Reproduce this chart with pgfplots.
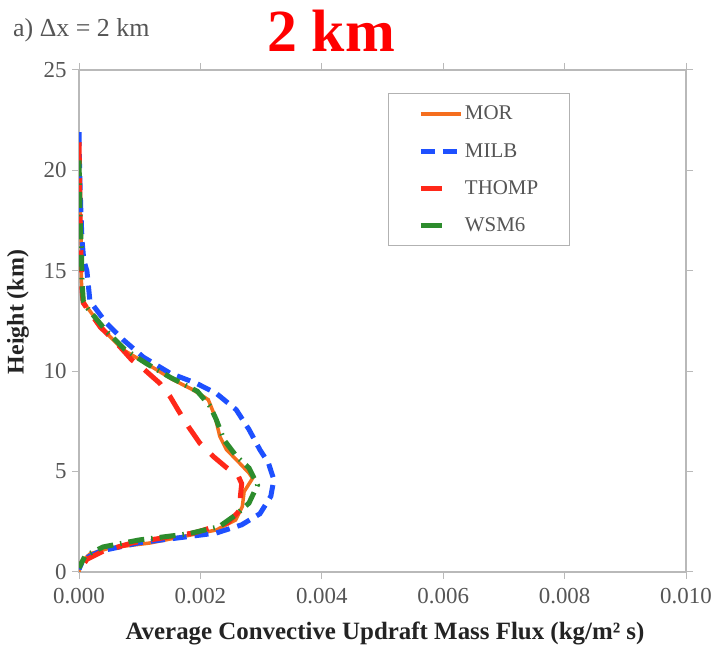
\documentclass[border=0pt]{standalone}
\usepackage{fontspec}
\setmainfont{Liberation Serif}
\usepackage{pgfplots}
\pgfplotsset{compat=1.18}
\definecolor{cmor}{RGB}{245,110,30}
\definecolor{cmilb}{RGB}{30,80,255}
\definecolor{cthomp}{RGB}{255,40,25}
\definecolor{cwsm}{RGB}{45,140,45}
\definecolor{tcol}{RGB}{85,85,85}
\definecolor{lcol}{RGB}{35,35,35}
\pgfplotsset{shortleg/.style={legend image code/.code={\draw[##1, solid] (0bp,0bp) -- (21bp,0bp);}}}
\begin{document}
\begin{tikzpicture}[x=1bp,y=1bp]
\useasboundingbox (0,0) rectangle (717,650);
\begin{axis}[
  at={(79bp,78bp)}, anchor=south west,
  scale only axis, width=607bp, height=502bp,
  xmin=0, xmax=0.01, ymin=0, ymax=25,
  xtick={0,0.002,0.004,0.006,0.008,0.010},
  ytick={0,5,10,15,20,25},
  scaled x ticks=false,
  xticklabel style={/pgf/number format/fixed,/pgf/number format/fixed zerofill,/pgf/number format/precision=3},
  /pgf/number format/assume math mode=true,
  tick label style={font=\fontsize{23}{23}\selectfont, text=tcol},
  xticklabel style={yshift=-6bp},
  yticklabel style={xshift=-2bp},
  tick align=outside, major tick length=7bp,
  tick style={draw=gray!55, line width=1bp},
  axis line style={draw=gray!55, line width=1.2bp},
  legend style={at={(0.509,0.954)}, anchor=north west, draw=gray!60, line width=1bp,
    font=\fontsize{21}{21}\selectfont, text=tcol, inner xsep=30bp, inner ysep=11bp,
    row sep=19bp, nodes={inner sep=1.5bp}},
  legend cell align=left,
  legend image code/.code={\draw[#1] (0bp,0bp) -- (40bp,0bp);},
]
\addplot[cmor, line width=3.5bp] coordinates {
(0,21.0)(0.00001,19.5)(0.00002,18)(0.00003,17)(0.00004,16)(0.00004,14.5)(0.00005,13.6)(0.00013,13.2)(0.00045,11.9)(0.00073,11.06)(0.0011,10.4)(0.00155,9.57)(0.00188,9.07)(0.00213,8.58)(0.00224,7.75)(0.00232,6.75)(0.00243,6.09)(0.00259,5.6)(0.0028,4.93)(0.00286,4.67)(0.00272,4.0)(0.00269,3.25)(0.00258,2.59)(0.00226,2.09)(0.0017,1.76)(0.00116,1.44)(0.00051,1.2)(0.00018,0.9)(0.00002,0.46)(0,0)
};
\addlegendentry{MOR}
\addplot[cmilb, line width=5bp, dash pattern=on 14bp off 8bp] coordinates {
(0,21.9)(0.00001,20)(0.00003,18)(0.00005,16.5)(0.00008,15.5)(0.00013,15.0)(0.00018,13.5)(0.00029,13.05)(0.00045,12.4)(0.00073,11.56)(0.00106,10.7)(0.0015,9.9)(0.00193,9.4)(0.00226,8.9)(0.00259,8.08)(0.0028,7.1)(0.00298,6.09)(0.00312,5.43)(0.00321,4.6)(0.00316,3.77)(0.00298,2.9)(0.00268,2.35)(0.00226,1.94)(0.00177,1.75)(0.001,1.46)(0.00035,1.04)(0.00007,0.63)(0,0.13)
};
\addlegendentry{MILB}
\addplot[cthomp, line width=5bp, dash pattern=on 22bp off 14bp, shortleg] coordinates {
(0,21.4)(0.00001,19.5)(0.00002,17.5)(0.00003,16)(0.00005,14)(0.00007,13.4)(0.00035,12.2)(0.00062,11.4)(0.00087,10.56)(0.00108,10.07)(0.00133,9.4)(0.0015,8.74)(0.00163,8.08)(0.0018,7.25)(0.00199,6.42)(0.00221,5.76)(0.00243,5.2)(0.00262,4.8)(0.00268,4.4)(0.00266,3.8)(0.00266,3.1)(0.00245,2.45)(0.0019,1.95)(0.00089,1.46)(0.0004,1.04)(0.00013,0.63)(0.00002,0.13)(0,0)
};
\addlegendentry{THOMP}
\addplot[cwsm, line width=5bp, dash pattern=on 16bp off 7bp on 1.5bp off 7bp, shortleg] coordinates {
(0,20.5)(0.00001,19)(0.00002,17.5)(0.00004,16)(0.00005,14.5)(0.00007,13.5)(0.00015,13.1)(0.00045,12.0)(0.00075,11.1)(0.0011,10.4)(0.0015,9.7)(0.00195,9.0)(0.00216,8.25)(0.00226,7.6)(0.00239,6.57)(0.0026,5.74)(0.0028,5.18)(0.00294,4.33)(0.0028,3.43)(0.00258,2.84)(0.00231,2.26)(0.0018,1.9)(0.001,1.6)(0.0004,1.25)(0.0001,0.8)(0,0.2)
};
\addlegendentry{WSM6}
\end{axis}
\node[anchor=base west, text=tcol, font=\fontsize{26}{26}\selectfont, inner sep=0] at (13,613) {a) Δx = 2 km};
\node[anchor=base, text=red, font=\fontsize{60}{60}\selectfont\bfseries, inner sep=0] at (331,598) {2 km};
\node[text=lcol, font=\fontsize{25}{25}\selectfont\bfseries] at (385,17) {Average Convective Updraft Mass Flux (kg/m² s)};
\node[text=lcol, rotate=90, font=\fontsize{24}{24}\selectfont\bfseries] at (18,338) {Height (km)};
\end{tikzpicture}
\end{document}
